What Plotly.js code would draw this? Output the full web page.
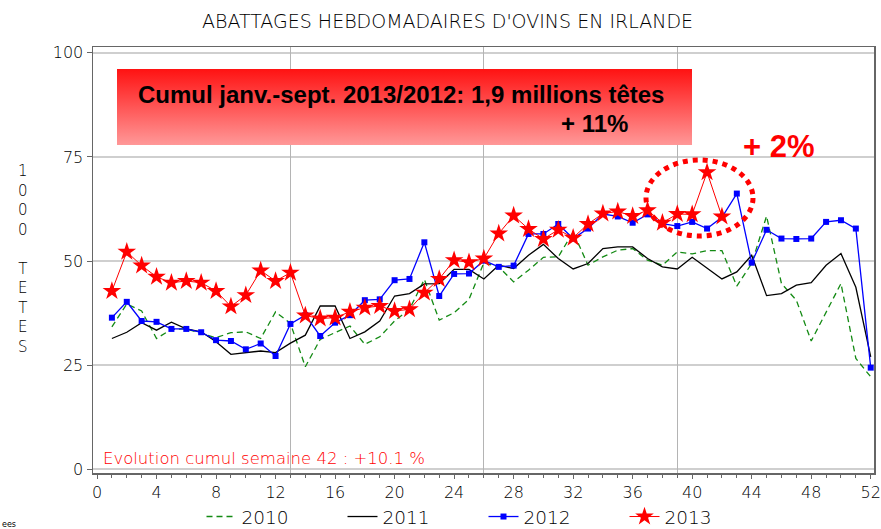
<!DOCTYPE html>
<html>
<head>
<meta charset="utf-8">
<script src="https://cdn.plot.ly/plotly-3.0.1.min.js"></script>
<style>html,body{margin:0;padding:0;background:#fff;}#chart{width:881px;height:529px;}</style>
</head>
<body>
<div id="chart"></div>
<script>
// ---- data ----
const weeks = [1,2,3,4,5,6,7,8,9,10,11,12,13,14,15,16,17,18,19,20,21,22,23,24,25,26,27,28,29,30,31,32,33,34,35,36,37,38,39,40,41,42,43,44,45,46,47,48,49,50,51,52];
const weeks2013 = [1,2,3,4,5,6,7,8,9,10,11,12,13,14,15,16,17,18,19,20,21,22,23,24,25,26,27,28,29,30,31,32,33,34,35,36,37,38,39,40,41,42];
const y2010 = [34.2,39.7,38.0,31.4,33.6,33.7,32.6,31.6,32.8,33.0,31.4,37.8,35.0,24.6,31.2,32.8,34.4,30.0,31.8,35.6,38.4,45.6,35.8,37.6,40.8,49.6,48.6,45.0,47.8,50.9,51.0,57.0,49.0,51.0,52.6,53.0,50.2,49.0,52.2,51.7,52.5,52.5,44.0,49.4,60.8,44.6,40.6,30.8,37.8,44.6,26.6,22.2];
const y2011 = [31.4,32.9,35.2,33.4,35.3,33.7,33.0,30.6,27.6,28.0,28.4,28.0,30.3,32.2,39.2,39.2,31.4,33.0,35.6,41.6,42.2,44.5,44.6,48.0,48.0,45.7,49.0,48.2,51.4,54.0,50.6,48.1,49.4,53.0,53.4,53.4,50.6,48.6,48.1,50.9,48.2,45.7,47.4,51.4,41.7,42.2,44.2,44.8,49.0,51.8,43.7,27.0];
const y2012 = [36.4,40.2,35.6,35.4,33.7,33.7,32.9,31.0,30.8,28.8,30.2,27.2,34.9,37.0,32.0,35.2,37.0,40.6,40.8,45.4,45.7,54.5,41.6,46.9,47.0,50.1,48.6,48.9,56.5,56.5,58.9,55.4,57.8,61.3,60.7,59.2,61.2,59.0,58.4,59.4,57.8,60.5,66.2,49.6,57.5,55.4,55.3,55.4,59.4,59.8,57.8,24.4];
const y2013 = [42.8,52.2,48.9,46.2,44.8,45.2,44.8,42.8,39.1,41.8,47.7,45.2,47.2,36.9,36.2,36.4,37.8,38.8,39.2,38.0,38.4,42.4,45.7,50.2,49.7,50.6,56.6,60.9,57.7,55.3,57.5,55.6,58.9,61.4,61.9,60.8,62.2,59.2,61.3,61.2,71.3,60.7];
const seriesNames = ['2010','2011','2012','2013'];
const xTicks = [0,4,8,12,16,20,24,28,32,36,40,44,48,52];
const yTicks = [0,25,50,75,100];
const vGrid = [13,26,39];

// ---- layout helpers (pixel -> paper) ----
const L = 93, R = 874, T = 47, B = 473;
const px = v => (v - L) / (R - L);
const py = v => (B - v) / (B - T);

const thin = "DejaVu Sans";

const traces = [
  {x: weeks, y: y2010, name: seriesNames[0], mode: 'lines', line: {color: '#138a13', width: 1.3, dash: '6px,4px'}},
  {x: weeks, y: y2011, name: seriesNames[1], mode: 'lines', line: {color: '#000000', width: 1.3}},
  {x: weeks, y: y2012, name: seriesNames[2], mode: 'lines+markers', line: {color: '#0000ff', width: 1.3}, marker: {symbol: 'square', size: 6, color: '#0000ff'}},
  {x: weeks2013, y: y2013, name: seriesNames[3], mode: 'lines+markers', line: {color: '#ff0000', width: 1}, marker: {symbol: 'star', size: 14, color: '#ff0000'}}
];

const svg = "<svg xmlns='http://www.w3.org/2000/svg' width='100' height='100' preserveAspectRatio='none'><defs><linearGradient id='g' x1='0' y1='0' x2='0' y2='1'><stop offset='0' stop-color='#ff1212'/><stop offset='1' stop-color='#ff9898'/></linearGradient></defs><rect width='100' height='100' fill='url(#g)'/></svg>";
const gradSrc = 'data:image/svg+xml;base64,' + btoa(svg);

const layout = {
  width: 881, height: 529,
  margin: {l: L, r: 881 - R, t: T, b: 529 - B, pad: 0, autoexpand: false},
  paper_bgcolor: '#ffffff', plot_bgcolor: '#ffffff',
  font: {family: thin, color: '#000', size: 14},
  title: {text: 'ABATTAGES HEBDOMADAIRES D\'OVINS EN IRLANDE', font: {family: thin, size: 19, color: '#000', weight: 200}, x: 0.508, xanchor: 'center', y: 1 - 21/529, yanchor: 'middle'},
  showlegend: true,
  legend: {orientation: 'h', x: 0.5, xanchor: 'center', y: py(517), yanchor: 'middle', font: {family: thin, size: 18.5, color: '#000', weight: 200}, entrywidth: 96, entrywidthmode: 'pixels', bgcolor: 'rgba(0,0,0,0)'},
  xaxis: {
    range: [-0.27, 52.22], tickvals: xTicks, ticktext: xTicks.map(String),
    showgrid: false, zeroline: false, showline: true, mirror: true, linecolor: '#666', linewidth: 1.5,
    ticks: 'outside', ticklen: 4, tickcolor: '#666', tickwidth: 1,
    minor: {dtick: 1, tick0: 0, ticks: 'outside', ticklen: 3, tickcolor: '#666', showgrid: false},
    tickfont: {family: thin, size: 16, color: '#000', weight: 200}, fixedrange: true
  },
  xaxis2: {
    overlaying: 'x', matches: 'x', range: [-0.27, 52.22], tickvals: vGrid, showticklabels: false, ticks: '',
    showgrid: true, gridcolor: '#b4b4b4', gridwidth: 1, zeroline: false, showline: false
  },
  yaxis: {
    range: [-0.9, 101.4], tickvals: yTicks, ticktext: yTicks.map(String),
    showgrid: true, gridcolor: '#cfcfcf', gridwidth: 2, zeroline: false,
    showline: true, mirror: true, linecolor: '#666', linewidth: 1.5,
    ticks: 'outside', ticklen: 5, tickcolor: '#666', tickwidth: 1,
    tickfont: {family: thin, size: 16, color: '#000', weight: 200}, fixedrange: true
  },
  images: [{source: gradSrc, xref: 'paper', yref: 'paper', x: px(117), y: py(69), sizex: px(692) - px(117), sizey: py(69) - py(145), xanchor: 'left', yanchor: 'top', sizing: 'stretch', layer: 'above'}],
  shapes: [
    {type: 'circle', xref: 'paper', yref: 'paper', x0: px(646), x1: px(753), y0: py(236), y1: py(160), line: {color: '#ff0000', width: 5, dash: '5px,5px'}, layer: 'above'}
  ],
  annotations: [
    {xref: 'paper', yref: 'paper', x: px(136), y: py(94), xanchor: 'left', yanchor: 'middle', showarrow: false, text: 'Cumul janv.-sept. 2013/2012: 1,9 millions têtes', font: {family: 'Liberation Sans, Arial', size: 24, color: '#000', weight: 700}},
    {xref: 'paper', yref: 'paper', x: px(630), y: py(123), xanchor: 'right', yanchor: 'middle', showarrow: false, text: '+ 11%', font: {family: 'Liberation Sans, Arial', size: 24, color: '#000', weight: 700}},
    {xref: 'paper', yref: 'paper', x: px(741), y: py(146), xanchor: 'left', yanchor: 'middle', showarrow: false, text: '+ 2%', font: {family: 'Liberation Sans, Arial', size: 31, color: '#ff0000', weight: 700}},
    {xref: 'paper', yref: 'paper', x: px(101), y: py(458), xanchor: 'left', yanchor: 'middle', showarrow: false, text: 'Evolution cumul semaine 42 : +10.1 %', font: {family: thin, size: 16.5, color: '#ff0000', weight: 200}},
    {xref: 'paper', yref: 'paper', x: px(23), y: py(259), xanchor: 'center', yanchor: 'middle', showarrow: false, text: '1<br>0<br>0<br>0<br> <br>T<br>E<br>T<br>E<br>S', font: {family: thin, size: 15, color: '#000', weight: 200}},
    {xref: 'paper', yref: 'paper', x: px(0), y: py(524), xanchor: 'left', yanchor: 'middle', showarrow: false, text: 'ees', font: {family: thin, size: 8, color: '#000'}}
  ]
};

// dummy trace on x2 so the vertical gridlines get drawn
traces.push({x: [0], y: [null], xaxis: 'x2', showlegend: false, hoverinfo: 'skip', mode: 'lines'});

Plotly.newPlot('chart', traces, layout, {displayModeBar: false, staticPlot: true});
</script>
</body>
</html>
